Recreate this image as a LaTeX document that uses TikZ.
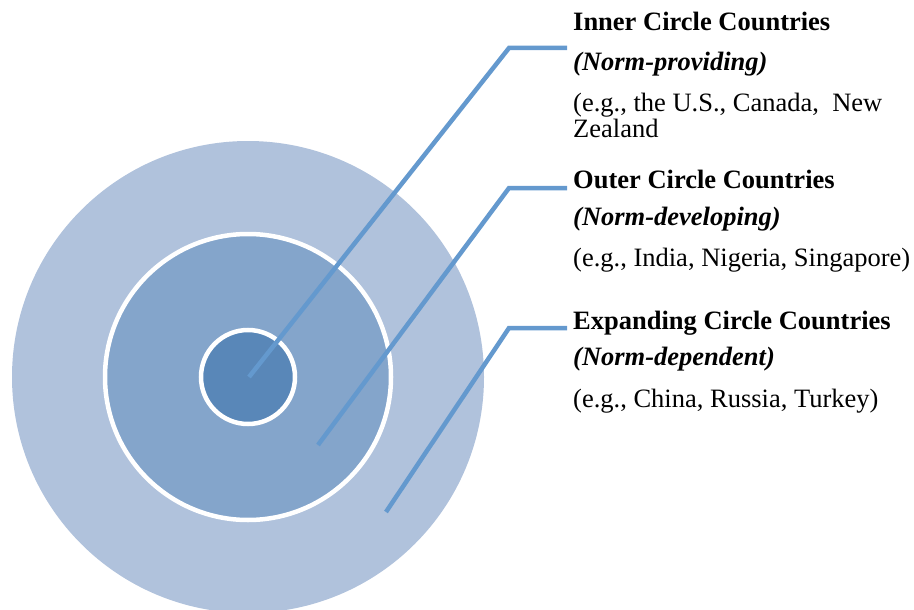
\documentclass[tikz,border=0pt]{standalone}
\usepackage{fontspec}
\setmainfont{Liberation Serif}
\definecolor{ringout}{RGB}{176,194,220}
\definecolor{ringmid}{RGB}{132,165,203}
\definecolor{ringin}{RGB}{89,135,184}
\definecolor{leader}{RGB}{100,153,206}
\tikzset{
  ringedge/.style={draw=white, line width=4.5pt},
  leaderline/.style={draw=leader, line width=4.5pt},
  lbl/.style={anchor=base west, inner sep=0pt, font=\fontsize{26.5}{30}\selectfont},
}
\begin{document}
\begin{tikzpicture}[x=1pt,y=-1pt]
\useasboundingbox (0,0) rectangle (914,610);
\begin{scope}
\clip (0,0) rectangle (914,610);
\fill[ringout] (248,377) circle (236);
\end{scope}
\filldraw[fill=ringmid, ringedge] (248,377) circle (143);
\filldraw[fill=ringin, ringedge] (248,377) circle (47);

\coordinate (s1) at (249,377);
\coordinate (c1) at (509,48);
\coordinate (e1) at (567,48);
\coordinate (s2) at (318,445);
\coordinate (c2) at (509,188);
\coordinate (e2) at (567,188);
\coordinate (s3) at (386,512);
\coordinate (c3) at (509,328);
\coordinate (e3) at (567,328);
\draw[leaderline] (s1) -- (c1) -- (e1);
\draw[leaderline] (s2) -- (c2) -- (e2);
\draw[leaderline] (s3) -- (c3) -- (e3);

\node[lbl] (t1) at (573,31) {\bfseries Inner Circle Countries};
\node[lbl] (n1) at (573,71) {\bfseries\itshape (Norm-providing)};
\node[lbl] (g1) at (573,111) {(e.g., the U.S., Canada,\ \ New};
\node[lbl] (z1) at (573,137) {Zealand};
\node[lbl] (t2) at (573,188) {\bfseries Outer Circle Countries};
\node[lbl] (n2) at (573,225) {\bfseries\itshape (Norm-developing)};
\node[lbl] (g2) at (573,266) {(e.g., India, Nigeria, Singapore)};
\node[lbl] (t3) at (573,329) {\bfseries Expanding Circle Countries};
\node[lbl] (n3) at (573,365) {\bfseries\itshape (Norm-dependent)};
\node[lbl] (g3) at (573,407) {(e.g., China, Russia, Turkey)};
\end{tikzpicture}
\end{document}
